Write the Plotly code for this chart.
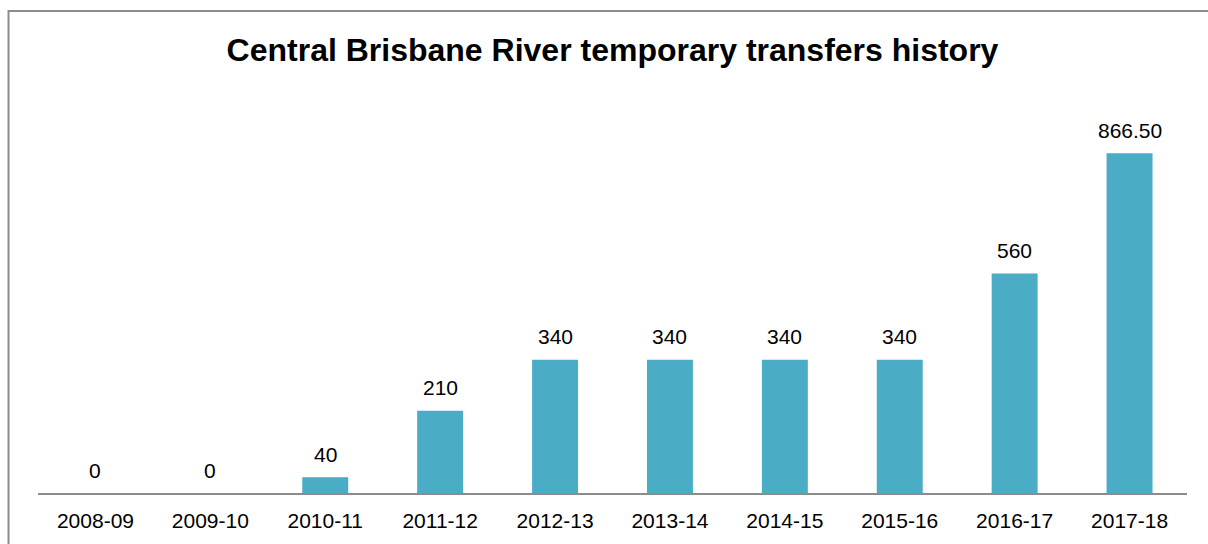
import plotly.graph_objects as go

categories = ["2008-09", "2009-10", "2010-11", "2011-12", "2012-13",
              "2013-14", "2014-15", "2015-16", "2016-17", "2017-18"]
values = [0, 0, 40, 210, 340, 340, 340, 340, 560, 866.50]
labels = ["0", "0", "40", "210", "340", "340", "340", "340", "560", "866.50"]

FONT = "Arial, Liberation Sans, sans-serif"
W, H = 1208, 544
ML, MR, MT, MB = 37.5, 20.5, 101, 47
PW, PH = W - ML - MR, H - MT - MB

fig = go.Figure()
fig.add_trace(go.Bar(x=categories, y=values, marker=dict(color="#4BACC6", line=dict(width=0)),
                     width=0.4, hoverinfo="x+y"))

for c, v, t in zip(categories, values, labels):
    fig.add_annotation(x=c, y=v, text=t, showarrow=False, yanchor="middle",
                       yshift=23, font=dict(family=FONT, size=21, color="#000000"))

def px_to_paper_x(px):
    return (px - ML) / PW

def py_to_paper_y(py):
    return (H - MB - py) / PH

fig.add_shape(type="rect", xref="paper", yref="paper",
              x0=px_to_paper_x(8), x1=px_to_paper_x(1260),
              y0=py_to_paper_y(600), y1=py_to_paper_y(10),
              line=dict(color="#8c8c8c", width=2), fillcolor="rgba(0,0,0,0)", layer="below")

fig.update_layout(
    width=W, height=H,
    margin=dict(l=ML, r=MR, t=MT, b=MB, pad=0),
    paper_bgcolor="white", plot_bgcolor="white",
    showlegend=False,
    title=dict(text="<b>Central Brisbane River temporary transfers history</b>",
               x=612.5 / W, xanchor="center", xref="container",
               y=1 - 50 / H, yanchor="middle", yref="container",
               pad=dict(t=0, b=0, l=0, r=0),
               font=dict(family=FONT, size=32, color="#000000")),
    xaxis=dict(type="category", showline=True, linecolor="#8c8c8c", linewidth=2,
               ticks="outside", ticklen=8, tickcolor="rgba(0,0,0,0)",
               tickfont=dict(family=FONT, size=21, color="#000000"),
               showgrid=False, zeroline=False),
    yaxis=dict(range=[0, 1000], visible=False, showgrid=False, zeroline=False),
)

fig.write_html("out.html", config={"displayModeBar": False},
               post_script="document.body.style.margin='0';document.body.style.overflow='hidden';")
